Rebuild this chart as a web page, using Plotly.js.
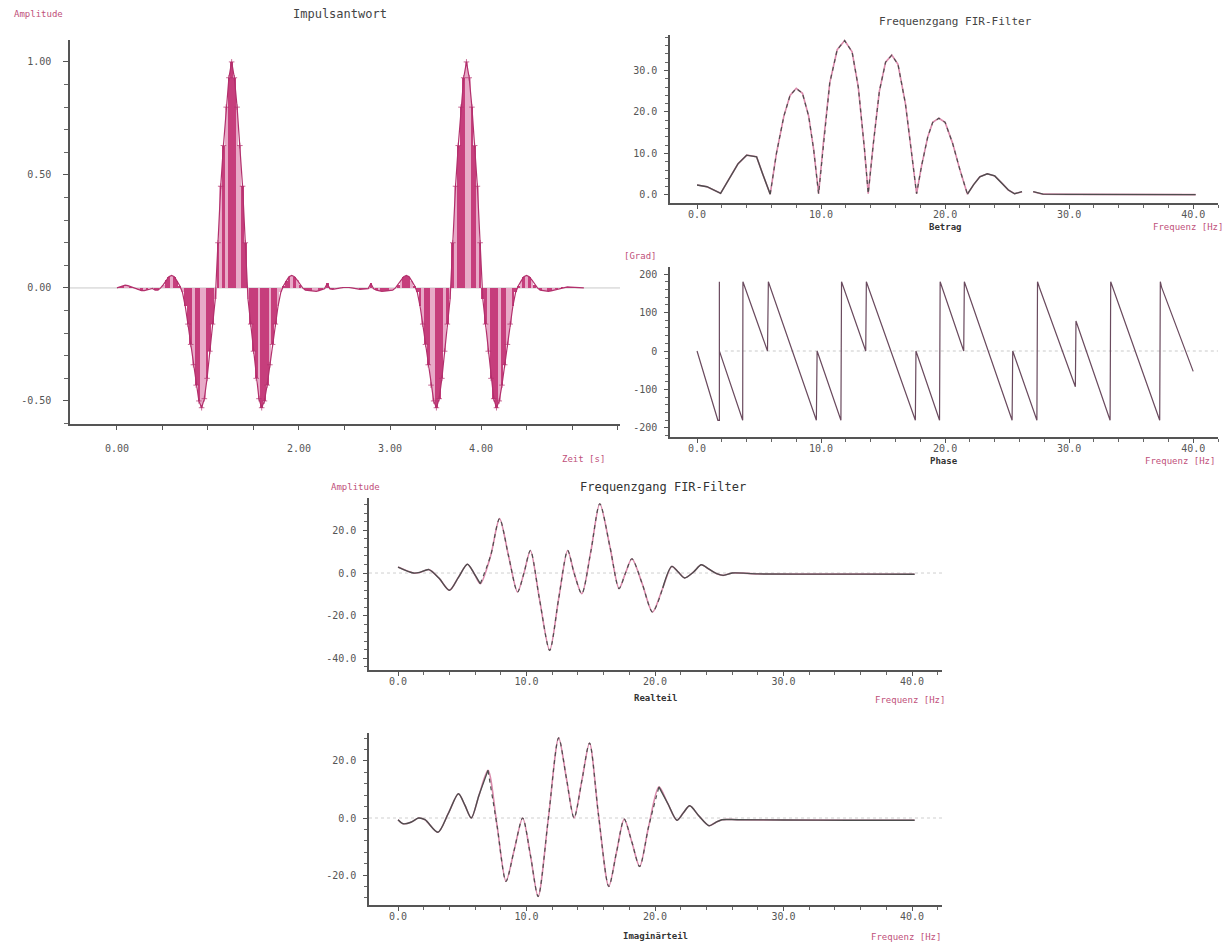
<!DOCTYPE html>
<html><head><meta charset="utf-8">
<script src="https://cdn.plot.ly/plotly-3.0.1.min.js"></script>
<style>html,body{margin:0;padding:0;background:#fff}#chart{width:1228px;height:943px}</style>
</head><body><div id="chart"></div>
<script>
// ---------------- DATA ----------------
// Impulse response: sampled values, sample interval in seconds
const impulseStart = 0.0;
const impulseStep = 0.03;
const impulseValues = [
 0.000,0.005,0.010,0.012,0.010,0.005,0.000,-0.005,-0.010,-0.012,-0.012,-0.010,-0.006,-0.002,
 -0.010,-0.010,0.000,0.015,0.035,0.050,0.055,0.050,0.030,0.010,-0.020,-0.080,-0.160,-0.250,-0.340,-0.430,-0.500,-0.530,-0.490,-0.400,-0.280,-0.160,-0.050,0.200,0.450,0.630,0.800,0.930,1.000,0.930,0.800,0.630,0.450,0.200,-0.050,-0.160,-0.280,-0.400,-0.490,-0.530,-0.500,-0.430,-0.340,-0.250,-0.160,-0.080,-0.020,0.010,0.030,0.050,0.055,0.050,0.035,0.015,0.000,-0.010,-0.012,
 -0.012,-0.014,-0.015,-0.012,-0.008,-0.004,0.020,-0.004,-0.006,-0.005,-0.003,0.000,0.002,0.003,0.002,0.000,-0.003,-0.005,-0.006,-0.005,-0.004,-0.003,0.020,-0.004,-0.010,-0.014,-0.015,-0.014,-0.012,
 -0.012,-0.010,0.000,0.015,0.035,0.050,0.055,0.050,0.030,0.010,-0.020,-0.080,-0.160,-0.250,-0.340,-0.430,-0.500,-0.530,-0.490,-0.400,-0.280,-0.160,-0.050,0.200,0.450,0.630,0.800,0.930,1.000,0.930,0.800,0.630,0.450,0.200,-0.050,-0.160,-0.280,-0.400,-0.490,-0.530,-0.500,-0.430,-0.340,-0.250,-0.160,-0.080,-0.020,0.010,0.030,0.050,0.055,0.050,0.035,0.015,0.000,-0.010,-0.012,
 -0.014,-0.015,-0.013,-0.010,-0.006,-0.002,0.002,0.004,0.005,0.004,0.003,0.002,0.001,0.000,0.000
];

// Magnitude (Betrag)
const magFreq = [0.0,0.8,1.9,2.6,3.3,4.0,4.8,5.3,5.9,6.4,7.0,7.5,8.0,8.5,9.0,9.4,9.8,10.2,10.7,11.3,11.9,12.5,13.0,13.5,13.8,14.2,14.7,15.2,15.7,16.2,16.8,17.3,17.7,18.1,18.6,19.0,19.5,20.0,20.6,21.2,21.8,22.3,22.8,23.4,24.0,24.6,25.1,25.6,26.2,null,27.1,27.9,30.0,35.0,40.2];
const magValue = [2.4,2.0,0.4,3.8,7.5,9.6,9.2,5.0,0.2,10,19,24,25.7,24.5,19,11,0.3,13,27,35,37.2,34.5,26,11,0.3,12,25,32,33.7,31.5,22,10,0.3,7,14,17.5,18.5,17.5,12.5,6,0.2,2.5,4.4,5.1,4.6,2.8,1.2,0.3,0.8,null,0.8,0.2,0.15,0.1,0.1];

// Phase [Grad]
const phaseFreq = [0.0,1.68,1.8,1.8,1.8,3.68,3.7,5.68,5.75,9.62,9.68,11.6,11.65,13.6,13.65,17.6,17.65,19.55,19.6,21.5,21.55,25.4,25.45,27.4,27.45,27.6,30.5,30.55,33.3,33.35,37.3,37.35,37.45,40.0];
const phaseValue = [0,-180,-180,180,0,-180,180,0,180,-180,0,-180,180,0,180,-180,0,-180,180,0,180,-180,0,-180,180,165,-93,78,-180,180,-180,180,166,-53];

// Realteil
const reFreq = [0.0,1.2,1.7,2.4,3.2,4.0,4.7,5.4,5.9,6.4,7.2,7.9,8.6,9.3,9.8,10.3,11.0,11.8,12.5,13.2,13.7,14.3,15.0,15.7,16.5,17.2,17.7,18.2,19.0,19.8,20.6,21.3,21.8,22.3,23.0,23.6,24.2,24.8,25.3,26.0,28.0,32.0,36.0,40.2];
const reValue = [2.8,0.0,0.3,1.6,-2.5,-8.1,-2.0,4.1,0.0,-5.0,8.0,25.5,8.0,-8.9,0.0,10.6,-12.0,-36.3,-12.0,10.6,0.0,-9.7,10.0,32.5,12.0,-7.3,0.0,6.7,-5.0,-18.3,-7.0,3.1,0.5,-2.3,0.5,3.9,1.8,-0.3,-1.1,0.0,-0.4,-0.5,-0.5,-0.6];

// Imaginärteil
const imFreq = [0.0,0.4,1.0,1.6,2.1,3.1,3.9,4.7,5.2,5.7,6.3,7.0,7.7,8.4,9.05,9.7,10.3,10.9,11.7,12.5,13.1,13.7,14.3,14.9,15.6,16.4,17.0,17.6,18.2,18.8,19.5,20.3,21.0,21.7,22.2,22.7,23.4,24.2,24.7,25.2,26.4,30.0,35.0,40.2];
const imValue = [-0.6,-2.0,-1.5,0.0,-0.6,-5.0,1.5,8.5,4.5,0.0,8.0,16.7,-2.5,-22.2,-11.0,0.0,-13.0,-27.5,0.0,28.1,14.0,0.0,13.0,26.3,1.0,-24.0,-12.0,-0.4,-8.5,-17.0,-3.0,10.9,5.0,-0.8,1.8,4.3,0.8,-2.7,-1.6,-0.6,-0.6,-0.7,-0.8,-0.8];

// Tick labels
const impXTicks = ['0.00','','','','2.00','','3.00','','4.00','','',''];
const impYTicks = ['-0.50','0.00','0.50','1.00'];
const freqTicks = ['0.0','10.0','20.0','30.0','40.0'];
const magYTicks = ['0.0','10.0','20.0','30.0'];
const phaseYTicks = ['-200','-100','0','100','200'];
const reYTicks = ['-40.0','-20.0','0.0','20.0'];
const imYTicks = ['-20.0','0.0','20.0'];

// ---------------- DRAWING ----------------
const W = 1228, H = 943;
const px = x => x / W, py = y => 1 - y / H;
const FONT = 'DejaVu Sans Mono';
const PINK = '#d98aab', DARK = '#4e4e4e', MAG = '#c63e7c', LIGHT = '#e8aac8';

const impT = impulseValues.map((v, i) => +(impulseStart + i * impulseStep).toFixed(4));
const barColors = impulseValues.map((v, i) => (i % 4 === 0 || i % 7 === 3 ? LIGHT : MAG));
const markerSizes = impulseValues.map(v => (Math.abs(v) > 0.1 ? 4 : 0));

function keep(xs, ys, test) {
  return ys.map((y, i) => (xs[i] === null || y === null) ? null : (test(xs[i]) ? y : null));
}
function curveTraces(xs, ys, lo, hi, xa, ya) {
  return [
    {x: xs, y: ys, xaxis: xa, yaxis: ya, type: 'scatter', mode: 'lines', line: {color: PINK, width: 1.6}, hoverinfo: 'skip'},
    {x: xs, y: keep(xs, ys, f => f >= lo && f <= hi), xaxis: xa, yaxis: ya, type: 'scatter', mode: 'lines', line: {color: DARK, width: 1.2, dash: '4px,4px'}, hoverinfo: 'skip'},
    {x: xs, y: keep(xs, ys, f => f <= lo || f >= hi), xaxis: xa, yaxis: ya, type: 'scatter', mode: 'lines', line: {color: DARK, width: 1.4}, hoverinfo: 'skip'}
  ];
}
function smooth(list) { list.forEach(t => { t.line.shape = 'spline'; t.line.smoothing = 0.8; }); return list; }

const traces = [
  {x: impT, y: impulseValues, type: 'bar', width: impulseStep, xaxis: 'x', yaxis: 'y',
   marker: {color: barColors, line: {width: 0}}, hoverinfo: 'skip'},
  {x: impT, y: impulseValues, type: 'scatter', mode: 'lines+markers', xaxis: 'x', yaxis: 'y',
   line: {color: '#b2306c', width: 1.2},
   marker: {symbol: 'cross-thin-open', size: markerSizes, line: {color: '#7a2450', width: 1}}, hoverinfo: 'skip'},
  ...curveTraces(magFreq, magValue, 5.9, 21.8, 'x2', 'y2'),
  {x: phaseFreq, y: phaseValue, type: 'scatter', mode: 'lines', xaxis: 'x3', yaxis: 'y3',
   line: {color: '#6a4a5e', width: 1.2}, hoverinfo: 'skip'},
  ...smooth(curveTraces(reFreq, reValue, 6.4, 20.6, 'x4', 'y4')),
  ...smooth(curveTraces(imFreq, imValue, 7.0, 20.3, 'x5', 'y5'))
];

function ax(o) {
  return Object.assign({
    showline: true, linecolor: '#555', linewidth: 1.6, ticks: 'outside', ticklen: 4,
    tickcolor: '#555', tickwidth: 1, showgrid: false, zeroline: false, fixedrange: true,
    tickmode: 'array', ticklabelstandoff: -3,
    tickfont: {family: FONT, size: 10, color: '#555'}
  }, o);
}
function range(a, b, s) { const r = []; for (let v = a; v <= b + 1e-9; v += s) r.push(+v.toFixed(4)); return r; }
function minor(a, b, s, len) { return {tickmode: 'array', tickvals: range(a, b, s), ticklen: len || 3, tickcolor: '#666', ticks: 'outside'}; }

const fr = [0, 10, 20, 30, 40];
const layout = {
  width: W, height: H, margin: {l: 0, r: 0, t: 0, b: 0},
  paper_bgcolor: '#fff', plot_bgcolor: 'rgba(0,0,0,0)', showlegend: false, bargap: 0,
  font: {family: FONT, size: 10, color: '#555'},
  xaxis: ax({domain: [px(70), px(620)], range: [-0.516, 5.527], anchor: 'y',
    tickvals: range(0, 5.5, 0.5), ticktext: impXTicks, ticklen: 4, ticklabelstandoff: 10}),
  yaxis: ax({domain: [py(424), py(40)], range: [-0.602, 1.097], anchor: 'x',
    tickvals: [-0.5, 0, 0.5, 1.0], ticktext: impYTicks, ticklen: 5, ticklabelstandoff: 10,
    minor: minor(-0.6, 1.0, 0.1, 4)}),
  xaxis2: ax({domain: [px(670), px(1218)], range: [-2.18, 42.0], anchor: 'y2',
    tickvals: fr, ticktext: freqTicks, minor: minor(0, 42, 2, 3)}),
  yaxis2: ax({domain: [py(203), py(35)], range: [-1.93, 38.55], anchor: 'x2',
    tickvals: [0, 10, 20, 30], ticktext: magYTicks, ticklabelstandoff: 5, minor: minor(0, 38, 2, 3)}),
  xaxis3: ax({domain: [px(670), px(1218)], range: [-2.18, 42.0], anchor: 'y3',
    tickvals: fr, ticktext: freqTicks, minor: minor(0, 42, 2, 3)}),
  yaxis3: ax({domain: [py(437), py(267)], range: [-223.4, 218.2], anchor: 'x3',
    tickvals: [-200, -100, 0, 100, 200], ticktext: phaseYTicks, ticklabelstandoff: 5, minor: minor(-220, 200, 20, 3)}),
  xaxis4: ax({domain: [px(369), px(942)], range: [-2.26, 42.33], anchor: 'y4',
    tickvals: fr, ticktext: freqTicks, minor: minor(0, 42, 2, 3)}),
  yaxis4: ax({domain: [py(670), py(498)], range: [-45.5, 35.2], anchor: 'x4',
    tickvals: [-40, -20, 0, 20], ticktext: reYTicks, ticklabelstandoff: 5, minor: minor(-44, 32, 4, 3)}),
  xaxis5: ax({domain: [px(369), px(942)], range: [-2.26, 42.33], anchor: 'y5',
    tickvals: fr, ticktext: freqTicks, minor: minor(0, 42, 2, 3)}),
  yaxis5: ax({domain: [py(905), py(733)], range: [-30.5, 29.8], anchor: 'x5',
    tickvals: [-20, 0, 20], ticktext: imYTicks, ticklabelstandoff: 5, minor: minor(-28, 28, 4, 3)}),
  shapes: [
    {type: 'line', xref: 'x domain', x0: 0, x1: 1, yref: 'y', y0: 0, y1: 0, line: {color: '#c9c9c9', width: 1}, layer: 'below'},
    {type: 'line', xref: 'x3 domain', x0: 0.1, x1: 1, yref: 'y3', y0: 0, y1: 0, line: {color: '#c9c9c9', width: 1, dash: 'dot'}, layer: 'below'},
    {type: 'line', xref: 'x4 domain', x0: 0, x1: 1, yref: 'y4', y0: 0, y1: 0, line: {color: '#cfcfcf', width: 1, dash: 'dot'}, layer: 'below'},
    {type: 'line', xref: 'x5 domain', x0: 0, x1: 1, yref: 'y5', y0: 0, y1: 0, line: {color: '#cfcfcf', width: 1, dash: 'dot'}, layer: 'below'}
  ],
  annotations: []
};

function txt(t, x, y, o) {
  return Object.assign({text: t, x: px(x), y: py(y), xref: 'paper', yref: 'paper', showarrow: false,
    xanchor: 'center', yanchor: 'middle', font: {family: FONT, size: 10, color: '#555'}}, o || {});
}
const pinkFont = {family: FONT, size: 9, color: '#c0507a'};
const boldFont = {family: FONT, size: 9, color: '#333'};
layout.annotations.push(
  txt('Amplitude', 38, 14, {font: pinkFont}),
  txt('Impulsantwort', 340, 14, {font: {family: FONT, size: 12, color: '#444'}}),
  txt('Zeit [s]', 583, 459, {font: pinkFont}),
  txt('Frequenzgang FIR-Filter', 955, 22, {font: {family: FONT, size: 11, color: '#444'}}),
  txt('<b>Betrag</b>', 945, 227, {font: boldFont}),
  txt('Frequenz [Hz]', 1188, 227, {font: pinkFont}),
  txt('[Grad]', 640, 256, {font: pinkFont}),
  txt('<b>Phase</b>', 944, 461, {font: boldFont}),
  txt('Frequenz [Hz]', 1180, 461, {font: pinkFont}),
  txt('Amplitude', 355, 487, {font: pinkFont}),
  txt('Frequenzgang FIR-Filter', 663, 487, {font: {family: FONT, size: 12, color: '#333'}}),
  txt('<b>Realteil</b>', 655, 698, {font: boldFont}),
  txt('Frequenz [Hz]', 910, 700, {font: pinkFont}),
  txt('<b>Imaginärteil</b>', 655, 936, {font: boldFont}),
  txt('Frequenz [Hz]', 906, 937, {font: pinkFont})
);

Plotly.newPlot('chart', traces, layout, {staticPlot: true, displayModeBar: false});
</script>
</body></html>
